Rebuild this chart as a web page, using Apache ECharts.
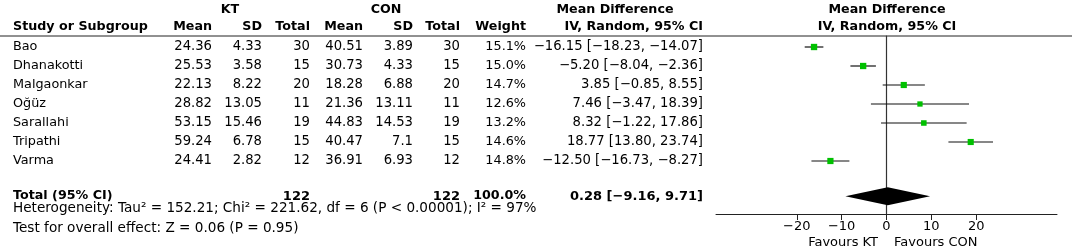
<!DOCTYPE html>
<html>
<head>
<meta charset="utf-8">
<script src="https://cdn.jsdelivr.net/npm/echarts@6/dist/echarts.min.js"></script>
<style>
  html, body { margin: 0; padding: 0; background: #fff; }
  #chart { width: 1072px; height: 250px; }
</style>
</head>
<body>
<div id="chart"></div>
<script>
// study data
const studies = ['Bao', 'Dhanakotti', 'Malgaonkar', 'Oğüz', 'Sarallahi', 'Tripathi', 'Varma'];
const ktMean = [24.36, 25.53, 22.13, 28.82, 53.15, 59.24, 24.41];
const ktSD = [4.33, 3.58, 8.22, 13.05, 15.46, 6.78, 2.82];
const ktTotal = [30, 15, 20, 11, 19, 15, 12];
const conMean = [40.51, 30.73, 18.28, 21.36, 44.83, 40.47, 36.91];
const conSD = [3.89, 4.33, 6.88, 13.11, 14.53, 7.1, 6.93];
const conTotal = [30, 15, 20, 11, 19, 15, 12];
const weights = [15.1, 15.0, 14.7, 12.6, 13.2, 14.6, 14.8];
const md = [-16.15, -5.20, 3.85, 7.46, 8.32, 18.77, -12.50];
const mdLow = [-18.23, -8.04, -0.85, -3.47, -1.22, 13.80, -16.73];
const mdHigh = [-14.07, -2.36, 8.55, 18.39, 17.86, 23.74, -8.27];
// pooled: estimate, low, high
const pooled = [0.28, -9.16, 9.71];
const totalKT = 122;
const totalCON = 122;
const totalWeight = 100.0;
const xTicks = [-20, -10, 0, 10, 20];
const heterogeneity = 'Heterogeneity: Tau² = 152.21; Chi² = 221.62, df = 6 (P < 0.00001); I² = 97%';
const overallTest = 'Test for overall effect: Z = 0.06 (P = 0.95)';

const totalRow = 7.85;
const FONT = '"DejaVu Sans", sans-serif';
const minus = s => String(s).replace(/-/g, '\u2212');
const fmtCI = (m, l, h) => minus(m.toFixed(2)) + ' [' + minus(l.toFixed(2)) + ', ' + minus(h.toFixed(2)) + ']';

// table columns (x = pixel anchor)
const R = 13.2;
const columns = [
  { x: 13, align: 'left', size: 12.8, get: i => studies[i] },
  { x: 212, align: 'right', size: R, get: i => String(ktMean[i]) },
  { x: 262, align: 'right', size: R, get: i => String(ktSD[i]) },
  { x: 310, align: 'right', size: R, get: i => String(ktTotal[i]) },
  { x: 363, align: 'right', size: R, get: i => String(conMean[i]) },
  { x: 413, align: 'right', size: R, get: i => String(conSD[i]) },
  { x: 460, align: 'right', size: R, get: i => String(conTotal[i]) },
  { x: 526, align: 'right', size: 12.8, get: i => weights[i].toFixed(1) + '%' },
  { x: 703, align: 'right', size: R, get: i => fmtCI(md[i], mdLow[i], mdHigh[i]) }
];

const rows = studies.map((s, i) => [md[i], i, mdLow[i], mdHigh[i], weights[i]]);

const chart = echarts.init(document.getElementById('chart'));

function txt(x, y, text, align, bold, size) {
  return {
    type: 'text',
    x: x, y: y,
    style: {
      text: text,
      fill: '#000',
      font: (bold ? 'bold ' : '') + (size || 12) + 'px ' + FONT,
      align: align,
      verticalAlign: 'middle'
    }
  };
}

const H = 12.7;
const headers = [
  txt(230, 10, 'KT', 'center', true, H),
  txt(386, 10, 'CON', 'center', true, H),
  txt(615, 10, 'Mean Difference', 'center', true, H),
  txt(887, 10, 'Mean Difference', 'center', true, H),
  txt(13, 27, 'Study or Subgroup', 'left', true, H),
  txt(212, 27, 'Mean', 'right', true, H),
  txt(262, 27, 'SD', 'right', true, H),
  txt(310, 27, 'Total', 'right', true, H),
  txt(363, 27, 'Mean', 'right', true, H),
  txt(413, 27, 'SD', 'right', true, H),
  txt(460, 27, 'Total', 'right', true, H),
  txt(526, 27, 'Weight', 'right', true, H),
  txt(703, 27, 'IV, Random, 95% CI', 'right', true, H),
  txt(887, 27, 'IV, Random, 95% CI', 'center', true, H),
  txt(13, 208, heterogeneity, 'left', false, 13.6),
  txt(13, 228, overallTest, 'left', false, 13.6),
  txt(878, 243, 'Favours KT', 'right', false, 13),
  txt(894, 243, 'Favours CON', 'left', false, 13),
  {
    type: 'line',
    shape: { x1: 0, y1: 36, x2: 1072, y2: 36 },
    style: { stroke: '#222', lineWidth: 1 }
  }
];

chart.setOption({
  animation: false,
  grid: { left: 716, right: 15, top: 36, bottom: 36 },
  xAxis: {
    type: 'value',
    position: 'bottom',
    min: -38,
    max: 38,
    splitLine: { show: false },
    axisLine: { onZero: false, lineStyle: { color: '#222', width: 1 } },
    axisTick: { customValues: xTicks, length: 6, lineStyle: { color: '#222' } },
    axisLabel: {
      customValues: xTicks,
      margin: 6,
      color: '#000',
      fontSize: 13,
      fontFamily: FONT,
      formatter: v => minus(v)
    }
  },
  yAxis: {
    type: 'value',
    inverse: true,
    min: -11 / 19,
    max: -11 / 19 + 178 / 19,
    axisLine: { show: true, onZero: true, lineStyle: { color: '#333', width: 1.2 } },
    axisTick: { show: false },
    axisLabel: { show: false },
    splitLine: { show: false }
  },
  graphic: headers,
  series: [
    {
      // table rows
      type: 'custom',
      clip: false,
      silent: true,
      data: rows,
      renderItem: (params, api) => {
        const i = params.dataIndex;
        const y = api.coord([0, i])[1];
        return {
          type: 'group',
          children: columns.map(c => txt(c.x, y, c.get(i), c.align, false, c.size))
        };
      }
    },
    {
      // totals row
      type: 'custom',
      clip: false,
      silent: true,
      data: [[pooled[0], totalRow]],
      renderItem: (params, api) => {
        const y = api.coord([0, totalRow])[1];
        return {
          type: 'group',
          children: [
            txt(13, y, 'Total (95% CI)', 'left', true, H),
            txt(310, y, String(totalKT), 'right', true, 13),
            txt(460, y, String(totalCON), 'right', true, 13),
            txt(526, y, totalWeight.toFixed(1) + '%', 'right', true, 12.7),
            txt(703, y, fmtCI(pooled[0], pooled[1], pooled[2]), 'right', true, 13)
          ]
        };
      }
    },
    {
      // CI whiskers and weighted squares
      type: 'custom',
      silent: true,
      clip: false,
      data: rows,
      renderItem: (params, api) => {
        const a = api.coord([api.value(2), api.value(1)]);
        const b = api.coord([api.value(3), api.value(1)]);
        const c = api.coord([api.value(0), api.value(1)]);
        const s = api.value(4) * 0.42;
        return {
          type: 'group',
          children: [
            {
              type: 'line',
              shape: { x1: a[0], y1: a[1], x2: b[0], y2: b[1] },
              style: { stroke: '#111', lineWidth: 1.2 }
            },
            {
              type: 'rect',
              shape: { x: c[0] - s / 2, y: c[1] - s / 2, width: s, height: s },
              style: { fill: '#00c000' }
            }
          ]
        };
      }
    },
    {
      // pooled diamond
      type: 'custom',
      silent: true,
      clip: false,
      data: [[pooled[0], totalRow, pooled[1], pooled[2]]],
      renderItem: (params, api) => {
        const r = api.value(1);
        const h = 9 / 19;
        const pts = [
          api.coord([api.value(2), r]),
          api.coord([api.value(0), r - h]),
          api.coord([api.value(3), r]),
          api.coord([api.value(0), r + h])
        ];
        return {
          type: 'polygon',
          shape: { points: pts },
          style: { fill: '#000' }
        };
      }
    }
  ]
});
</script>
</body>
</html>
